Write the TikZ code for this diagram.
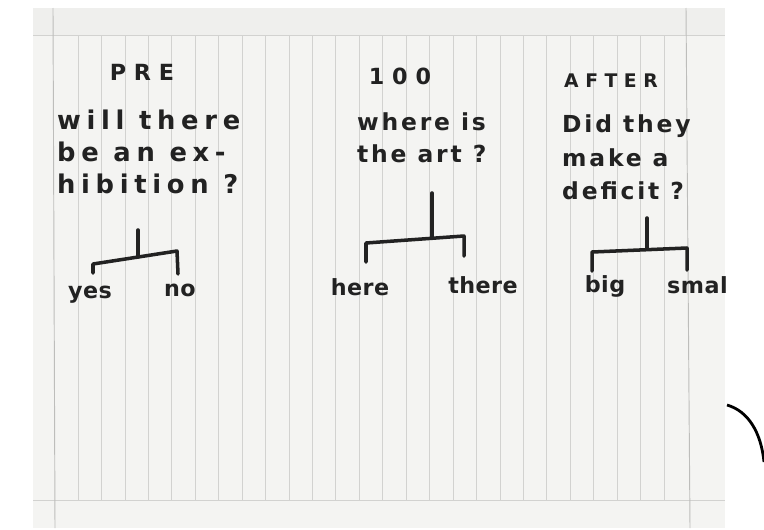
\documentclass[tikz,border=0pt]{standalone}
\usepackage{fontspec}
\newfontfamily\handfont{DejaVu Sans}[LetterSpace=22]
\newfontfamily\tighthand{DejaVu Sans}[LetterSpace=12]
\newfontfamily\widehand{DejaVu Sans}[LetterSpace=35]
\newfontfamily\answerfont{DejaVu Sans}[LetterSpace=2]
\usetikzlibrary{positioning, calc}
\definecolor{paper}{HTML}{F4F4F2}
\definecolor{paperTop}{HTML}{EFEFED}
\definecolor{ruleGray}{HTML}{D2D2D0}
\definecolor{marginGray}{HTML}{BDBDBB}
\definecolor{ink}{HTML}{222222}

\begin{document}
\begin{tikzpicture}[
            x=0.03cm, y=-0.03cm,
            pen/.style={draw=ink, line width=3pt, line cap=round, line join=round},
            hand/.style={font=\handfont\bfseries\fontsize{22}{27}\selectfont, text=ink,
                         inner sep=0pt, align=left},
            handnarrow/.style={hand, font=\tighthand\bfseries\fontsize{20}{28}\selectfont},
            head/.style={font=\widehand\bfseries\fontsize{19}{20}\selectfont, text=ink, inner sep=0pt},
            ans/.style={font=\answerfont\bfseries\fontsize{19}{22}\selectfont, text=ink, inner sep=0pt},
            ruling/.style={draw=ruleGray, line width=0.6pt},
            margin/.style={draw=marginGray, line width=0.8pt},
        ]
            \useasboundingbox (0,0) rectangle (764,529);
            \fill[white] (0,0) rectangle (764,529);

            % Notebook page
            \fill[paper] (33,8) rectangle (725,528);
            \fill[paperTop] (33,8) rectangle (725,35);
            \foreach \i in {0,...,25}
                \draw[ruling] ({78+23.44*\i},35) -- ({78+23.44*\i},500);
            \draw[ruling] (33,35) -- (725,35);
            \draw[ruling] (33,500) -- (725,500);
            \draw[margin] (53,8) -- (55,528);
            \draw[margin] (686,8) -- (690,528);

            % Column headers
            \node[head, anchor=base] (pre)     at (142,80) {PRE};
            \node[head, anchor=base] (hundred) at (400,84) {100};
            \node[head, anchor=base, font=\widehand\bfseries\fontsize{16}{18}\selectfont] (after) at (611,87) {AFTER};

            % Questions
            \node[hand, anchor=north west]       (qpre)   at (57,110)  {will there\\be an ex-\\hibition ?};
            \node[handnarrow, anchor=north west] (qart)   at (357,112) {where is\\the art ?};
            \node[handnarrow, anchor=north west, font=\tighthand\bfseries\fontsize{20}{29}\selectfont]
                (qafter) at (562,114) {Did they\\make a\\deficit ?};

            % Trees
            \coordinate (t1top) at (138,230);  \coordinate (t1mid) at (138,257);
            \coordinate (t1L) at (93,264);     \coordinate (t1R) at (177,251);
            \coordinate (t1Lend) at (93,273);  \coordinate (t1Rend) at (178,274);
            \coordinate (t2top) at (432,193);  \coordinate (t2mid) at (432,237);
            \coordinate (t2L) at (366,243);    \coordinate (t2R) at (464,236);
            \coordinate (t2Lend) at (366,262); \coordinate (t2Rend) at (464,256);
            \coordinate (t3top) at (647,218);  \coordinate (t3mid) at (647,249);
            \coordinate (t3L) at (592,252);    \coordinate (t3R) at (687,248);
            \coordinate (t3Lend) at (592,271); \coordinate (t3Rend) at (687,270);

            \draw[pen] (t1top) -- (t1mid);
            \draw[pen] (t1Lend) -- (t1L) -- (t1R) -- (t1Rend);
            \draw[pen] (t2top) -- (t2mid);
            \draw[pen] (t2Lend) -- (t2L) -- (t2R) -- (t2Rend);
            \draw[pen] (t3top) -- (t3mid);
            \draw[pen] (t3Lend) -- (t3L) -- (t3R) -- (t3Rend);

            % Answers
            \node[ans, anchor=base] (yes)   at (90,298)  {yes};
            \node[ans, anchor=base] (no)    at (180,296) {no};
            \node[ans, anchor=base] (here)  at (360,295) {here};
            \node[ans, anchor=base] (there) at (483,293) {there};
            \node[ans, anchor=base] (big)   at (605,292) {big};
            \begin{scope}
                \clip (33,8) rectangle (725,528);
                \node[ans, anchor=base west] (small) at (667,293) {small};
            \end{scope}

            % Edge of something beside the page
            \coordinate (arcA) at (727,405);
            \coordinate (arcB) at (764,462);
            \draw[line width=2.4pt] (arcA) .. controls (748,411) and (761,432) .. (arcB);
        \end{tikzpicture}
\end{document}
